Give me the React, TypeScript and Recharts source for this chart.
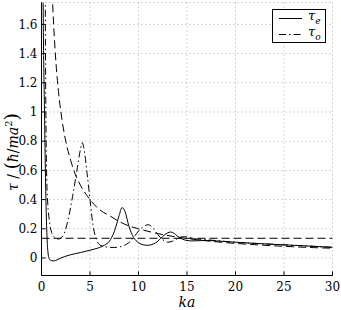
import { CartesianGrid, Line, LineChart, XAxis, YAxis } from 'recharts'

// τ_e (solid)
const evenKa = [0.15, 0.2, 0.3, 0.4, 0.5, 0.6, 0.7, 0.8, 1.0, 1.3, 1.6, 2, 2.5, 3, 3.5, 4, 4.5, 5, 5.5, 6, 6.5, 7, 7.5, 8, 8.3, 8.6, 9, 9.5, 10, 10.5, 11, 11.5, 12, 12.5, 13, 13.3, 13.7, 14, 14.5, 15, 15.5, 16, 17, 18, 20, 22, 25, 28, 30]
const evenTau = [1.9, 1.5, 1.05, 0.6, 0.28, 0.1, 0.02, -0.005, -0.018, -0.02, -0.013, 0.0, 0.012, 0.022, 0.03, 0.037, 0.045, 0.053, 0.062, 0.072, 0.088, 0.115, 0.18, 0.29, 0.345, 0.32, 0.22, 0.14, 0.105, 0.09, 0.087, 0.095, 0.115, 0.148, 0.172, 0.178, 0.168, 0.15, 0.13, 0.12, 0.117, 0.118, 0.12, 0.117, 0.108, 0.1, 0.09, 0.08, 0.073]

// τ_o (dash-dot)
const oddKa = [0.38, 0.42, 0.47, 0.55, 0.65, 0.8, 1.0, 1.3, 1.7, 2.2, 2.7, 3.2, 3.7, 4.0, 4.2, 4.4, 4.7, 5.0, 5.3, 5.7, 6.0, 6.5, 7.0, 7.5, 8.0, 8.5, 9.0, 9.5, 10.0, 10.5, 11.0, 11.5, 12.0, 12.5, 13.0, 13.5, 14.0, 14.5, 15.0, 15.5, 16, 17, 18, 20, 22, 25, 28, 30]
const oddTau = [1.9, 1.3, 0.85, 0.52, 0.37, 0.26, 0.185, 0.145, 0.13, 0.15, 0.25, 0.42, 0.62, 0.74, 0.79, 0.74, 0.58, 0.4, 0.23, 0.12, 0.09, 0.078, 0.073, 0.072, 0.075, 0.085, 0.105, 0.14, 0.185, 0.215, 0.228, 0.205, 0.16, 0.125, 0.108, 0.115, 0.132, 0.145, 0.145, 0.137, 0.13, 0.125, 0.119, 0.108, 0.1, 0.09, 0.08, 0.073]

// dashed decaying curve
const approxKa = [1.1, 1.25, 1.5, 1.75, 2, 2.5, 3, 3.5, 4, 5, 6, 7, 8, 9, 10, 12, 14, 16, 18, 20, 22, 25, 28, 30]
const approxTau = [1.82, 1.6, 1.33, 1.14, 1.0, 0.8, 0.67, 0.57, 0.5, 0.4, 0.33, 0.29, 0.25, 0.22, 0.2, 0.167, 0.143, 0.125, 0.111, 0.1, 0.091, 0.08, 0.071, 0.067]

// dashed horizontal level
const levelKa = [0, 30]
const levelTau = [0.135, 0.135]

const xTicks = [0, 5, 10, 15, 20, 25, 30]
const yTicks = [0, 0.2, 0.4, 0.6, 0.8, 1, 1.2, 1.4, 1.6]

const zip = (xs: number[], ys: number[]) => xs.map((ka, i) => ({ ka, tau: ys[i] }))

const FONT = 'DejaVu Serif'

const YLabel = () => (
  <text
    x={18}
    y={152}
    transform="rotate(-90 18 152)"
    textAnchor="middle"
    fontFamily={FONT}
    fontSize={14}
    fill="#000"
  >
    <tspan fontStyle="italic">τ</tspan>
    <tspan> / </tspan>
    <tspan fontSize={19}>(</tspan>
    <tspan fontStyle="italic">ħ</tspan>
    <tspan>/</tspan>
    <tspan fontStyle="italic">ma</tspan>
    <tspan dy={-6} fontSize={10}>2</tspan>
    <tspan dy={6} fontSize={19}>)</tspan>
  </text>
)

const XLabel = () => (
  <text x={187} y={307} textAnchor="middle" fontFamily={FONT} fontSize={14} fontStyle="italic" fill="#000">
    ka
  </text>
)

const tickStyle = { fill: '#000', fontSize: 12, fontFamily: FONT }

export default function App() {
  return (
    <div style={{ position: 'absolute', left: 0, top: 0, width: 341, height: 310, background: '#fff', fontFamily: FONT }}>
      <LineChart width={341} height={310} margin={{ top: 2.5, right: 8.5, bottom: 0, left: 0 }}>
        <CartesianGrid stroke="#aaa" strokeDasharray="1 3" />
        <XAxis
          dataKey="ka"
          type="number"
          domain={[0, 30]}
          ticks={xTicks}
          allowDataOverflow
          height={34.5}
          stroke="#000"
          tick={tickStyle}
          tickSize={-4}
          tickMargin={11}
          label={<XLabel />}
        />
        <XAxis
          xAxisId="top"
          orientation="top"
          dataKey="ka"
          type="number"
          domain={[0, 30]}
          ticks={xTicks}
          height={0}
          stroke="#000"
          tick={false}
          tickSize={-4}
        />
        <YAxis
          type="number"
          domain={[-0.12, 1.75]}
          ticks={yTicks}
          allowDataOverflow
          width={41.5}
          stroke="#000"
          tick={tickStyle}
          tickSize={-4}
          tickMargin={8}
          tickFormatter={(v: number) => String(v)}
          label={<YLabel />}
        />
        <YAxis
          yAxisId="right"
          orientation="right"
          type="number"
          domain={[-0.12, 1.75]}
          ticks={yTicks}
          width={0}
          stroke="#000"
          tick={false}
          tickSize={-4}
        />
        <Line
          data={zip(levelKa, levelTau)}
          dataKey="tau"
          type="linear"
          stroke="#000"
          strokeWidth={1}
          strokeDasharray="8 4"
          dot={false}
          isAnimationActive={false}
        />
        <Line
          data={zip(approxKa, approxTau)}
          dataKey="tau"
          type="monotone"
          stroke="#000"
          strokeWidth={1}
          strokeDasharray="8 4"
          dot={false}
          isAnimationActive={false}
        />
        <Line
          data={zip(oddKa, oddTau)}
          dataKey="tau"
          type="monotone"
          stroke="#000"
          strokeWidth={1}
          strokeDasharray="7 3 1.5 3"
          dot={false}
          isAnimationActive={false}
        />
        <Line
          data={zip(evenKa, evenTau)}
          dataKey="tau"
          type="monotone"
          stroke="#000"
          strokeWidth={1}
          dot={false}
          isAnimationActive={false}
        />
      </LineChart>
      <div
        style={{
          position: 'absolute',
          left: 272,
          top: 9,
          width: 52,
          height: 32,
          border: '1px solid #000',
          background: '#fff',
          fontSize: 13,
        }}
      >
        {[
          { dash: 'none', name: 'e' },
          { dash: '7 3 1.5 3', name: 'o' },
        ].map((it, i) => (
          <div key={i} style={{ position: 'absolute', left: 0, top: i === 0 ? 0 : 16, height: 16, width: 52 }}>
            <svg width={30} height={16} style={{ position: 'absolute', left: 5, top: 0 }}>
              <line x1={1} x2={24} y1={8.5} y2={8.5} stroke="#000" strokeDasharray={it.dash} />
            </svg>
            <span style={{ position: 'absolute', left: 35, top: -2, fontStyle: 'italic' }}>
              τ<sub style={{ fontSize: 9 }}>{it.name}</sub>
            </span>
          </div>
        ))}
      </div>
    </div>
  )
}
